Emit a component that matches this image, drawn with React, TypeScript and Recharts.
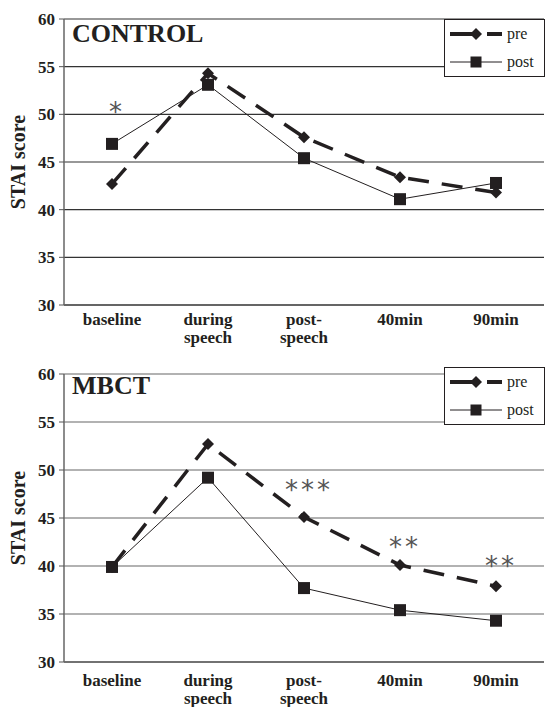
import React from 'react';
import { LineChart, Line, XAxis, YAxis, CartesianGrid, ReferenceDot } from 'recharts';

const categories = ['baseline', 'during\nspeech', 'post-\nspeech', '40min', '90min'];
const yTicks = [30, 35, 40, 45, 50, 55, 60];
const edgeTicks = [0, 1, 2, 3, 4, 5];

const controlPre = [42.7, 54.3, 47.6, 43.4, 41.8];
const controlPost = [46.9, 53.1, 45.4, 41.1, 42.8];
const mbctPre = [39.9, 52.7, 45.1, 40.1, 37.9];
const mbctPost = [39.9, 49.2, 37.7, 35.4, 34.3];

// significance marks (pre vs post), height given in score units
const controlStars = [{ cat: 'baseline', text: '*', at: 50.8 }];
const mbctStars = [
  { cat: 'post-\nspeech', text: '***', at: 48.4 },
  { cat: '40min', text: '**', at: 42.5 },
  { cat: '90min', text: '**', at: 40.5 },
];

const SERIF = '"Liberation Serif", "Times New Roman", serif';
const INK = '#231f20';

function Diamond(props: any) {
  const { cx, cy, index, r = 6 } = props;
  if (cx == null || cy == null) return null;
  return (
    <path
      key={`d${index}`}
      d={`M${cx},${cy - r}L${cx + r},${cy}L${cx},${cy + r}L${cx - r},${cy}Z`}
      fill={INK}
    />
  );
}

function Square(props: any) {
  const { cx, cy, index, s = 12 } = props;
  if (cx == null || cy == null) return null;
  return <rect key={`s${index}`} x={cx - s / 2} y={cy - s / 2} width={s} height={s} fill={INK} />;
}

function CatTick({ x, y, payload, dy }: any) {
  const lines = String(payload.value).split('\n');
  return (
    <text x={x} textAnchor="middle" fontFamily={SERIF} fontWeight="bold" fontSize={17} fill={INK}>
      {lines.map((l, i) => (
        <tspan key={i} x={x} y={y + dy + i * 18}>
          {l}
        </tspan>
      ))}
    </text>
  );
}

function LegendBox({ top }: { top: number }) {
  return (
    <svg
      width={101}
      height={58}
      style={{ position: 'absolute', left: 444, top, background: '#fff' }}
    >
      <rect x={0.5} y={0.5} width={100} height={57} fill="#fff" stroke={INK} />
      <line x1={6} y1={15} x2={58} y2={15} stroke={INK} strokeWidth={4} strokeDasharray="26 11 20" />
      <Diamond cx={32} cy={15} r={6} />
      <text x={63} y={20} fontFamily={SERIF} fontSize={16} fill={INK}>pre</text>
      <line x1={6} y1={43} x2={58} y2={43} stroke={INK} strokeWidth={1} />
      <Square cx={32} cy={43} s={11} />
      <text x={63} y={48} fontFamily={SERIF} fontSize={16} fill={INK}>post</text>
    </svg>
  );
}

interface PanelProps {
  title: string;
  pre: number[];
  post: number[];
  stars: { cat: string; text: string; at: number }[];
  top: number;
  height: number;
  marginTop: number;
  marginBottom: number;
  axisHeight: number;
  labelDy: number;
  titleTop: number;
  legendTop: number;
  gridColor: string;
}

function Panel(p: PanelProps) {
  const data = categories.map((name, i) => ({ name, pre: p.pre[i], post: p.post[i] }));
  const plotTop = p.marginTop;
  const plotBottom = p.height - p.marginBottom - p.axisHeight;
  const mid = (plotTop + plotBottom) / 2;
  return (
    <div style={{ position: 'absolute', left: 0, top: p.top, width: 545, height: p.height }}>
      <LineChart
        width={545}
        height={p.height}
        data={data}
        margin={{ top: p.marginTop, right: 1, left: 0, bottom: p.marginBottom }}
      >
        <CartesianGrid vertical={false} stroke={p.gridColor} strokeWidth={1.2} />
        <XAxis
          xAxisId="edges"
          type="number"
          domain={[0, 5]}
          ticks={edgeTicks}
          allowDataOverflow
          height={0}
          axisLine={false}
          tick={false}
          tickSize={6}
          tickLine={{ stroke: '#444', strokeWidth: 1.2 }}
        />
        <XAxis
          dataKey="name"
          scale="band"
          interval={0}
          height={p.axisHeight}
          tickLine={false}
          tickSize={0}
          tickMargin={0}
          axisLine={{ stroke: '#333', strokeWidth: 1.2 }}
          tick={(t: any) => <CatTick {...t} dy={p.labelDy} />}
        />
        <YAxis
          domain={[30, 60]}
          ticks={yTicks}
          width={64}
          tickSize={5}
          tickMargin={4}
          interval={0}
          axisLine={{ stroke: '#666', strokeWidth: 1.5 }}
          tickLine={{ stroke: '#555' }}
          tick={{ fontFamily: SERIF, fontWeight: 'bold', fontSize: 17, fill: INK }}
        />
        {p.stars.map((s, i) => (
          <ReferenceDot
            key={i}
            x={s.cat}
            y={s.at}
            r={0}
            shape={(d: any) => (
              <text
                x={d.cx + 5}
                y={d.cy + 14}
                textAnchor="middle"
                fontFamily='"DejaVu Sans", sans-serif'
                fontSize={26}
                letterSpacing={3}
                fill="#555"
              >
                {s.text}
              </text>
            )}
          />
        ))}
        <Line
          type="linear"
          dataKey="post"
          stroke={INK}
          strokeWidth={1}
          dot={(d: any) => <Square {...d} key={`s${d.index}`} s={12} />}
          activeDot={false}
          isAnimationActive={false}
        />
        <Line
          type="linear"
          dataKey="pre"
          stroke={INK}
          strokeWidth={3.5}
          strokeDasharray="21 13"
          dot={(d: any) => <Diamond {...d} key={`d${d.index}`} r={6} />}
          activeDot={false}
          isAnimationActive={false}
        />
      </LineChart>
      <div
        style={{
          position: 'absolute',
          left: 72,
          top: p.titleTop,
          fontFamily: SERIF,
          fontWeight: 'bold',
          fontSize: 26,
          lineHeight: '26px',
          color: INK,
        }}
      >
        {p.title}
      </div>
      <svg width={40} height={p.height} style={{ position: 'absolute', left: 0, top: 0 }}>
        <text
          x={25}
          y={mid}
          transform={`rotate(-90 25 ${mid})`}
          textAnchor="middle"
          fontFamily={SERIF}
          fontWeight="bold"
          fontSize={20}
          fill={INK}
        >
          STAI score
        </text>
      </svg>
      <LegendBox top={p.legendTop} />
    </div>
  );
}

export default function App() {
  return (
    <div style={{ position: 'absolute', left: 0, top: 0, width: 545, height: 707, background: '#fff', overflow: 'hidden' }}>
      <Panel
        title="CONTROL"
        pre={controlPre}
        post={controlPost}
        stars={controlStars}
        top={0}
        height={352}
        marginTop={19}
        marginBottom={12}
        axisHeight={35}
        labelDy={20}
        titleTop={21}
        legendTop={19}
        gridColor="#333"
      />
      <Panel
        title="MBCT"
        pre={mbctPre}
        post={mbctPost}
        stars={mbctStars}
        top={340}
        height={367}
        marginTop={34}
        marginBottom={0}
        axisHeight={45}
        labelDy={24}
        titleTop={33}
        legendTop={27}
        gridColor="#666"
      />
    </div>
  );
}
